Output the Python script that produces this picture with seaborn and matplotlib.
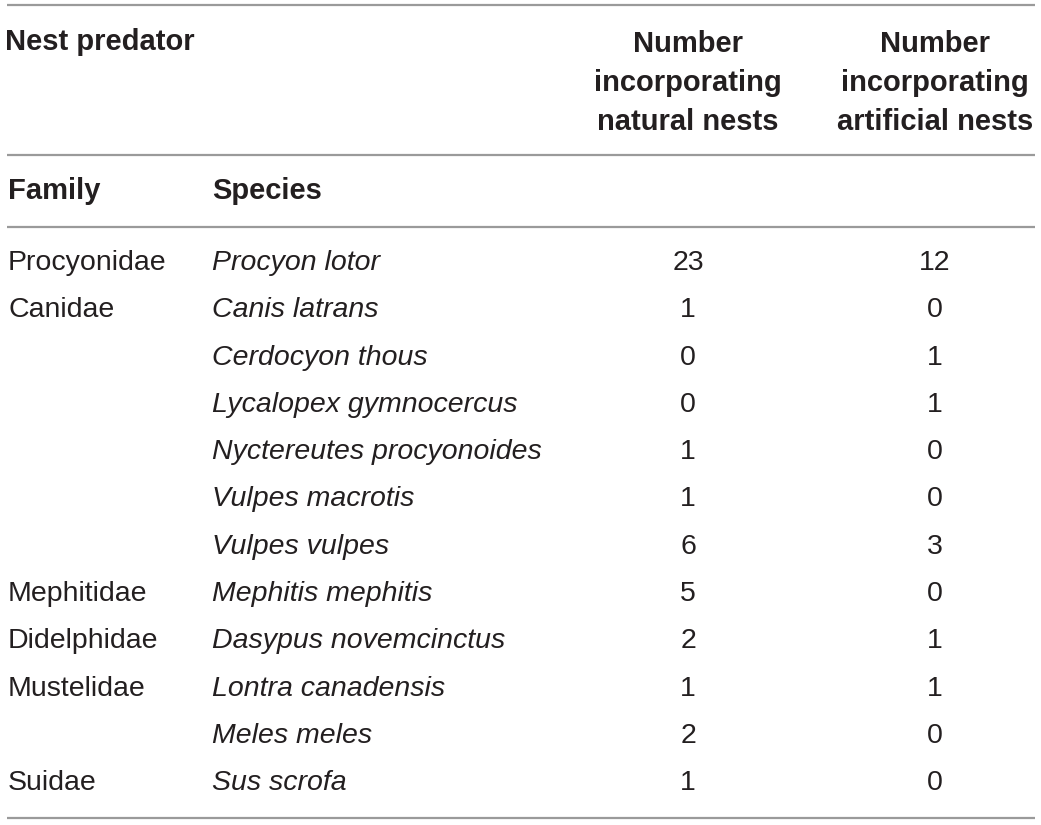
import seaborn as sns
import matplotlib.pyplot as plt

families = ["Procyonidae", "Canidae", "", "", "", "", "", "Mephitidae",
            "Didelphidae", "Mustelidae", "", "Suidae"]
species = ["Procyon lotor", "Canis latrans", "Cerdocyon thous",
           "Lycalopex gymnocercus", "Nyctereutes procyonoides",
           "Vulpes macrotis", "Vulpes vulpes", "Mephitis mephitis",
           "Dasypus novemcinctus", "Lontra canadensis", "Meles meles",
           "Sus scrofa"]
natural_nests = [23, 1, 0, 0, 1, 1, 6, 5, 2, 1, 2, 1]
artificial_nests = [12, 0, 1, 1, 0, 0, 3, 0, 1, 1, 0, 0]

sns.set_theme(style="white")
plt.rcParams['font.family'] = ['Liberation Sans', 'DejaVu Sans']

fig = plt.figure(figsize=(10.41, 8.25), dpi=100)
ax = fig.add_axes([0, 0, 1, 1])
ax.set_xlim(0, 1041)
ax.set_ylim(825, 0)
ax.axis("off")

ink = "#231f20"
rule = "#9a9a9a"
fs = 20.5
hfs = 21

# horizontal rules
for y in (5, 155, 227, 818):
    ax.plot([7, 1035], [y, y], color=rule, lw=1.6, solid_capstyle="butt")

# header
ax.text(5, 42, "Nest predator", fontsize=hfs, fontweight="bold", color=ink, va="center")
ax.text(688, 83, "Number\nincorporating\nnatural nests", fontsize=hfs, fontweight="bold",
        color=ink, ha="center", va="center", linespacing=1.5)
ax.text(935, 83, "Number\nincorporating\nartificial nests", fontsize=hfs, fontweight="bold",
        color=ink, ha="center", va="center", linespacing=1.5)
ax.text(8, 191, "Family", fontsize=hfs, fontweight="bold", color=ink, va="center")
ax.text(212, 191, "Species", fontsize=hfs, fontweight="bold", color=ink, va="center")

# body rows
y0, step = 263, 47.3
for i, (fam, sp, nat, art) in enumerate(zip(families, species, natural_nests, artificial_nests)):
    y = y0 + i * step
    ax.text(8, y, fam, fontsize=fs, color=ink, va="center")
    ax.text(212, y, sp, fontsize=fs, style="italic", color=ink, va="center")
    ax.text(688, y, str(nat), fontsize=fs, color=ink, ha="center", va="center")
    ax.text(935, y, str(art), fontsize=fs, color=ink, ha="center", va="center")

fig.savefig("out.png", dpi=100, facecolor="white")
